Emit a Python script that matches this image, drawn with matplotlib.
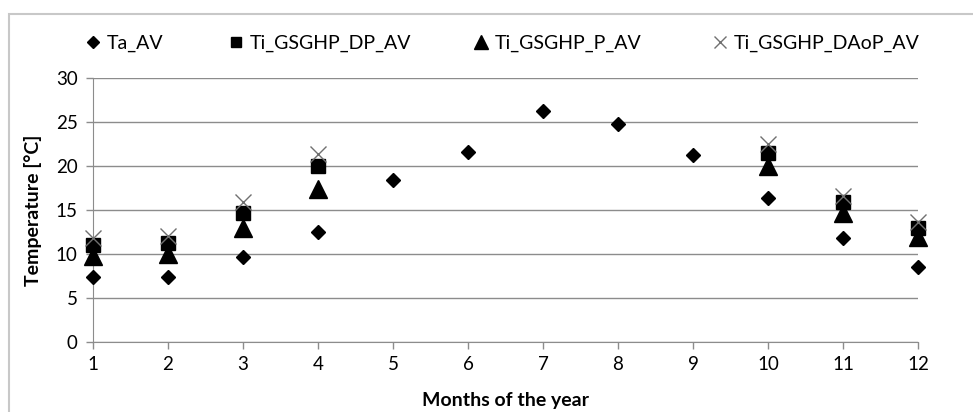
import matplotlib
matplotlib.use("Agg")
import matplotlib.pyplot as plt
from matplotlib.lines import Line2D
from matplotlib.patches import Rectangle

plt.rcParams['font.family'] = ['Lato', 'DejaVu Sans']

months = list(range(1, 13))

# Ambient temperature, all months
ta_av = [7.4, 7.4, 9.7, 12.5, 18.4, 21.6, 26.3, 24.8, 21.2, 16.4, 11.8, 8.5]

# Indoor temperatures, heating season only
heat_months = [1, 2, 3, 4, 10, 11, 12]
ti_dp_av = [11.0, 11.3, 14.7, 20.0, 21.5, 15.9, 12.9]
ti_p_av = [9.8, 10.0, 13.0, 17.4, 20.0, 14.7, 11.9]
ti_daop_av = [11.8, 12.1, 15.9, 21.4, 22.5, 16.6, 13.6]

W, H = 973, 412
fig = plt.figure(figsize=(W / 100, H / 100), dpi=100)
ax = fig.add_axes([93 / W, 1 - 342 / H, (918 - 93) / W, (342 - 78) / H])

# outer chart frame (runs off the right/bottom edges)
fig.patches.append(Rectangle((9 / W, -0.1), 1.1, 1 - 14 / H + 0.1,
                             transform=fig.transFigure, fill=False,
                             edgecolor='#c8c8c8', linewidth=1.5))

grid_c = '#8c8c8c'
h1, = ax.plot(months, ta_av, 'D', color='black', markersize=7.5, linestyle='none', clip_on=False)
h2, = ax.plot(heat_months, ti_dp_av, 's', color='black', markersize=10, linestyle='none', clip_on=False)
h3, = ax.plot(heat_months, ti_p_av, '^', color='black', markersize=12.5, linestyle='none', clip_on=False)
h4, = ax.plot(heat_months, ti_daop_av, 'x', color='#707070', markersize=11, markeredgewidth=1,
              linestyle='none', clip_on=False)
for h in (h1, h2, h3, h4):
    h.set_zorder(3)

ax.set_xlim(1, 12)
ax.set_ylim(0, 30)
ax.set_xticks(months)
ax.set_yticks(range(0, 31, 5))
ax.yaxis.grid(True, color=grid_c, linewidth=1)
ax.set_axisbelow(True)
for s in ('top', 'right'):
    ax.spines[s].set_visible(False)
ax.spines['left'].set_color(grid_c)
ax.spines['bottom'].set_color(grid_c)
ax.tick_params(axis='both', colors=grid_c, labelcolor='black', labelsize=13.5, length=5, width=1)
ax.tick_params(axis='x', pad=5)
ax.tick_params(axis='y', pad=6)

ax.set_xlabel('Months of the year', fontsize=14, fontweight='bold', labelpad=14)
ax.set_ylabel('Temperature [°C]', fontsize=14, fontweight='bold', labelpad=10)

labels = ['Ta_AV', 'Ti_GSGHP_DP_AV', 'Ti_GSGHP_P_AV', 'Ti_GSGHP_DAoP_AV']
handles = [h1, h2, h3, h4]
leg_x = [85, 228, 473, 712]
for hx, hd, lb in zip(leg_x, handles, labels):
    hh = Line2D([], [], marker=hd.get_marker(), color=hd.get_color(), linestyle='none',
                markersize=hd.get_markersize() * 0.75, markeredgewidth=hd.get_markeredgewidth())
    fig.legend([hh], [lb], loc='center left', bbox_to_anchor=(hx / W, 1 - 43 / H),
               frameon=False, fontsize=14, handlelength=0.8, handletextpad=0.3,
               borderaxespad=0, borderpad=0)

fig.savefig('out.png', dpi=100)
